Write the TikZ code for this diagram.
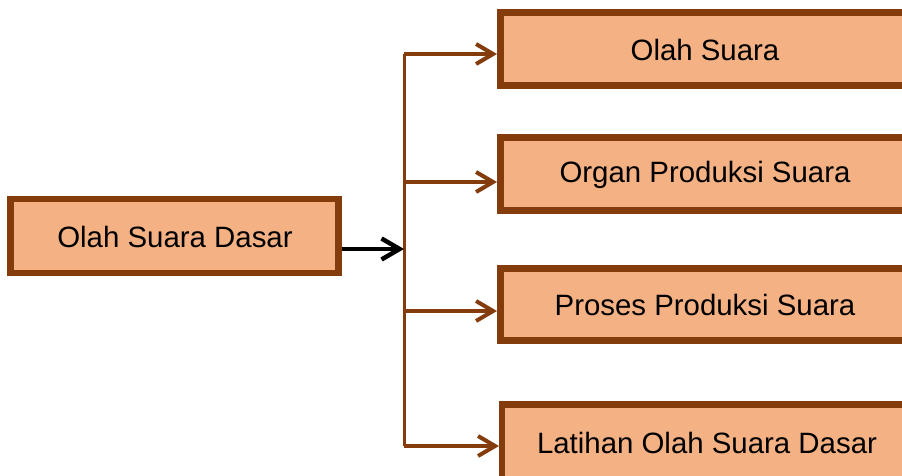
\documentclass[tikz,border=0pt]{standalone}
\usepackage{fontspec}
\setmainfont{Liberation Sans}
\usetikzlibrary{arrows.meta}
\definecolor{boxfill}{HTML}{F4B183}
\definecolor{boxline}{HTML}{843C0C}
\begin{document}
\begin{tikzpicture}[x=1pt,y=-1pt,
  boxstyle/.style={draw=boxline,fill=boxfill,line width=6.5pt},
  lbl/.style={font=\fontsize{29.4}{33}\selectfont,text=black,inner sep=0pt},
  branch/.style={draw=boxline,line width=3.3pt,-{Straight Barb[length=17pt,width=20pt,line width=4pt]}},
  mainarrow/.style={draw=black,line width=4pt,-{Straight Barb[length=18pt,width=21pt,line width=4.5pt]}}]
\useasboundingbox (0,0) rectangle (902,476);
\begin{scope}
\clip (0,0) rectangle (902,476);
% left box
\draw[boxstyle] (10.5,199) rectangle (338.5,273);
\node[lbl] (src) at (175,237) {Olah Suara Dasar};
\coordinate (srcE) at (342,249);
% right boxes
\draw[boxstyle] (500.5,12.5) rectangle (930,85.5);
\node[lbl] (b1) at (705,50) {Olah Suara};
\draw[boxstyle] (500.5,137.5) rectangle (930,210.5);
\node[lbl] (b2) at (705,175) {Organ Produksi Suara};
\draw[boxstyle] (500.5,268.5) rectangle (930,340.5);
\node[lbl] (b3) at (705,305) {Proses Produksi Suara};
\draw[boxstyle] (502,404.5) rectangle (930,490);
\node[lbl] (b4) at (707,443) {Latihan Olah Suara Dasar};
% connectors
\coordinate (t1) at (404,54);
\coordinate (t4) at (404,446);
\coordinate (j)  at (404,249);
\coordinate (e1) at (497,54);
\coordinate (j2) at (404,182);
\coordinate (e2) at (497,182);
\coordinate (j3) at (404,311);
\coordinate (e3) at (497,311);
\coordinate (e4) at (499,446);
\draw[draw=boxline,line width=3pt] (t1) -- (t4);
\draw[branch] (t1) -- (e1);
\draw[branch] (j2) -- (e2);
\draw[branch] (j3) -- (e3);
\draw[branch] (t4) -- (e4);
\draw[mainarrow] (srcE) -- (j);
\end{scope}
\end{tikzpicture}
\end{document}
